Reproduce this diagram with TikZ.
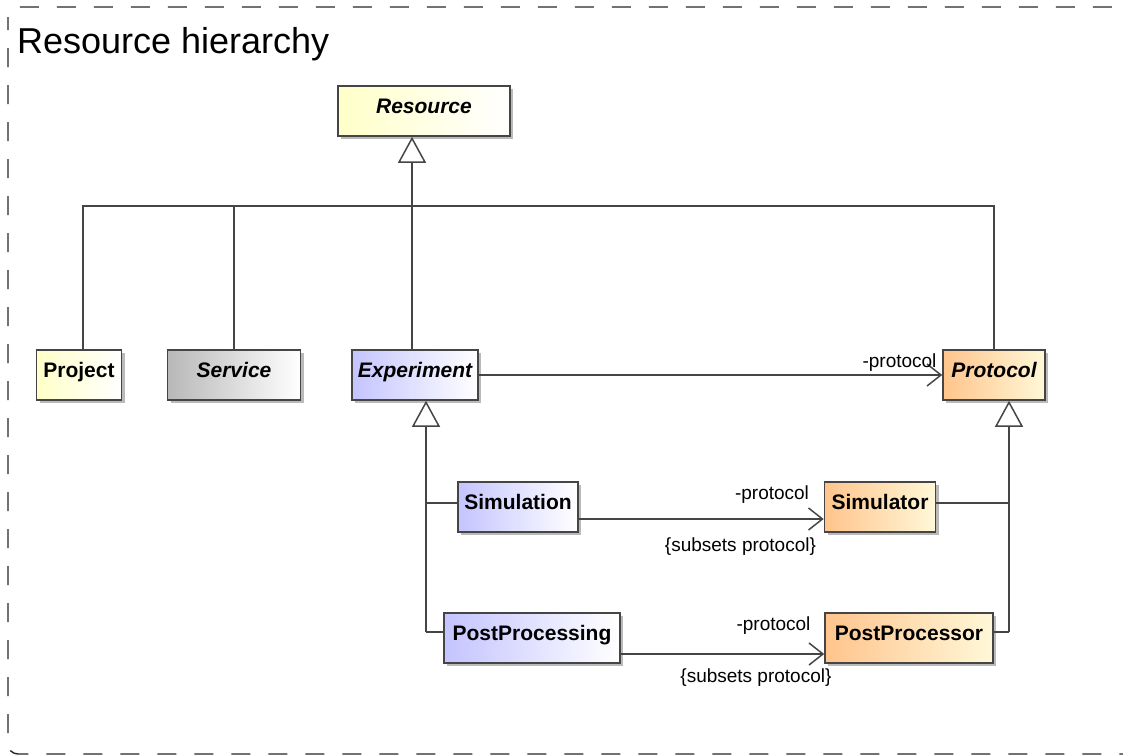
\documentclass[tikz,border=0pt]{standalone}
\usepackage{fontspec}
\setmainfont{Liberation Sans}
\usetikzlibrary{arrows.meta,shadows}
\definecolor{edgegray}{HTML}{454545}
\definecolor{ylw}{HTML}{FFFFC8}
\definecolor{gry}{HTML}{B8B8B8}
\definecolor{lav}{HTML}{C4C4FF}
\definecolor{org}{HTML}{FFC48C}
\definecolor{pale}{HTML}{FFF8D8}
\tikzset{
  cls/.style={draw=edgegray, line width=1.6pt, minimum height=50pt, inner sep=2pt,
    text height=15pt, text depth=11pt,
    font=\fontsize{21}{24}\selectfont\bfseries,
    drop shadow={shadow xshift=3pt, shadow yshift=-3pt, fill=black!45, opacity=.6}},
  abstr/.style={cls, font=\fontsize{21}{24}\selectfont\bfseries\itshape},
  yclass/.style={left color=ylw, right color=white},
  gclass/.style={left color=gry, right color=white},
  bclass/.style={left color=lav, right color=white},
  oclass/.style={left color=org, right color=pale},
  line/.style={draw=edgegray, line width=1.5pt},
  gen/.style={line, -{Triangle[open, length=26pt, width=28pt]}},
  assoc/.style={line, -{Straight Barb[length=14pt, width=22pt]}},
  lbl/.style={font=\fontsize{19}{22}\selectfont, inner sep=1pt}
}
\begin{document}
\begin{tikzpicture}[x=1pt,y=-1pt]
  \useasboundingbox (0,0) rectangle (1123,755);
  \draw[black!85, line width=1.4pt, dash pattern=on 19pt off 18pt, dash phase=6pt, rounded corners=10pt] (8,7) rectangle (1135,754);
  \node[anchor=base west, inner sep=0pt, font=\fontsize{36}{40}\selectfont] (title) at (17,53) {Resource hierarchy};

  % classes
  \node[abstr, yclass, minimum width=172pt] (resource) at (424,111) {Resource};
  \node[cls, yclass, minimum width=85pt] (project) at (79,375) {Project};
  \node[abstr, gclass, minimum width=133pt] (service) at (234,375) {Service};
  \node[abstr, bclass, minimum width=126pt] (experiment) at (415,375) {Experiment};
  \node[abstr, oclass, minimum width=102pt] (protocol) at (994,375) {Protocol};
  \node[cls, bclass, minimum width=120pt] (simulation) at (518,507) {Simulation};
  \node[cls, oclass, minimum width=111pt] (simulator) at (880,507) {Simulator};
  \node[cls, bclass, minimum width=176pt] (postprocessing) at (532,638) {PostProcessing};
  \node[cls, oclass, minimum width=168pt] (postprocessor) at (909,638) {PostProcessor};

  % generalisation to Resource
  \coordinate (bus) at (412,206);
  \draw[gen] (experiment.north -| bus) -- (resource.south -| bus);
  \draw[line] ([xshift=4pt]project.north) |- (bus) -| (protocol.north);
  \draw[line] (service.north) -- (service.north |- bus);

  % generalisation to Experiment and Protocol
  \coordinate (ejoin) at (426,632);
  \coordinate (pjoin) at (1009,632);
  \draw[gen] (ejoin) -- (ejoin |- experiment.south);
  \draw[line] ([yshift=4pt]simulation.west) -| (ejoin);
  \draw[line] ([yshift=6pt]postprocessing.west) -| (ejoin);
  \draw[gen] (pjoin) -- (pjoin |- protocol.south);
  \draw[line] ([yshift=4pt]simulator.east) -| (pjoin);
  \draw[line] ([yshift=6pt]postprocessor.east) -| (pjoin);

  % associations
  \draw[assoc] (experiment.east) -- (protocol.west)
    node[lbl, pos=1, anchor=south east, xshift=-4pt, yshift=2pt] (exprole) {-protocol};
  \draw[assoc] ([yshift=-12pt]simulation.east) -- ([yshift=-12pt]simulator.west)
    node[lbl, pos=1, anchor=south east, xshift=-13pt, yshift=14pt] (simrole) {-protocol}
    node[lbl, pos=1, anchor=north east, xshift=-6pt, yshift=-17pt] (simsub) {\{subsets protocol\}};
  \draw[assoc] ([yshift=-16pt]postprocessing.east) -- ([yshift=-16pt]postprocessor.west)
    node[lbl, pos=1, anchor=south east, xshift=-12pt, yshift=18pt] (pprole) {-protocol}
    node[lbl, pos=1, anchor=north east, xshift=9pt, yshift=-13pt] (ppsub) {\{subsets protocol\}};
\end{tikzpicture}
\end{document}
